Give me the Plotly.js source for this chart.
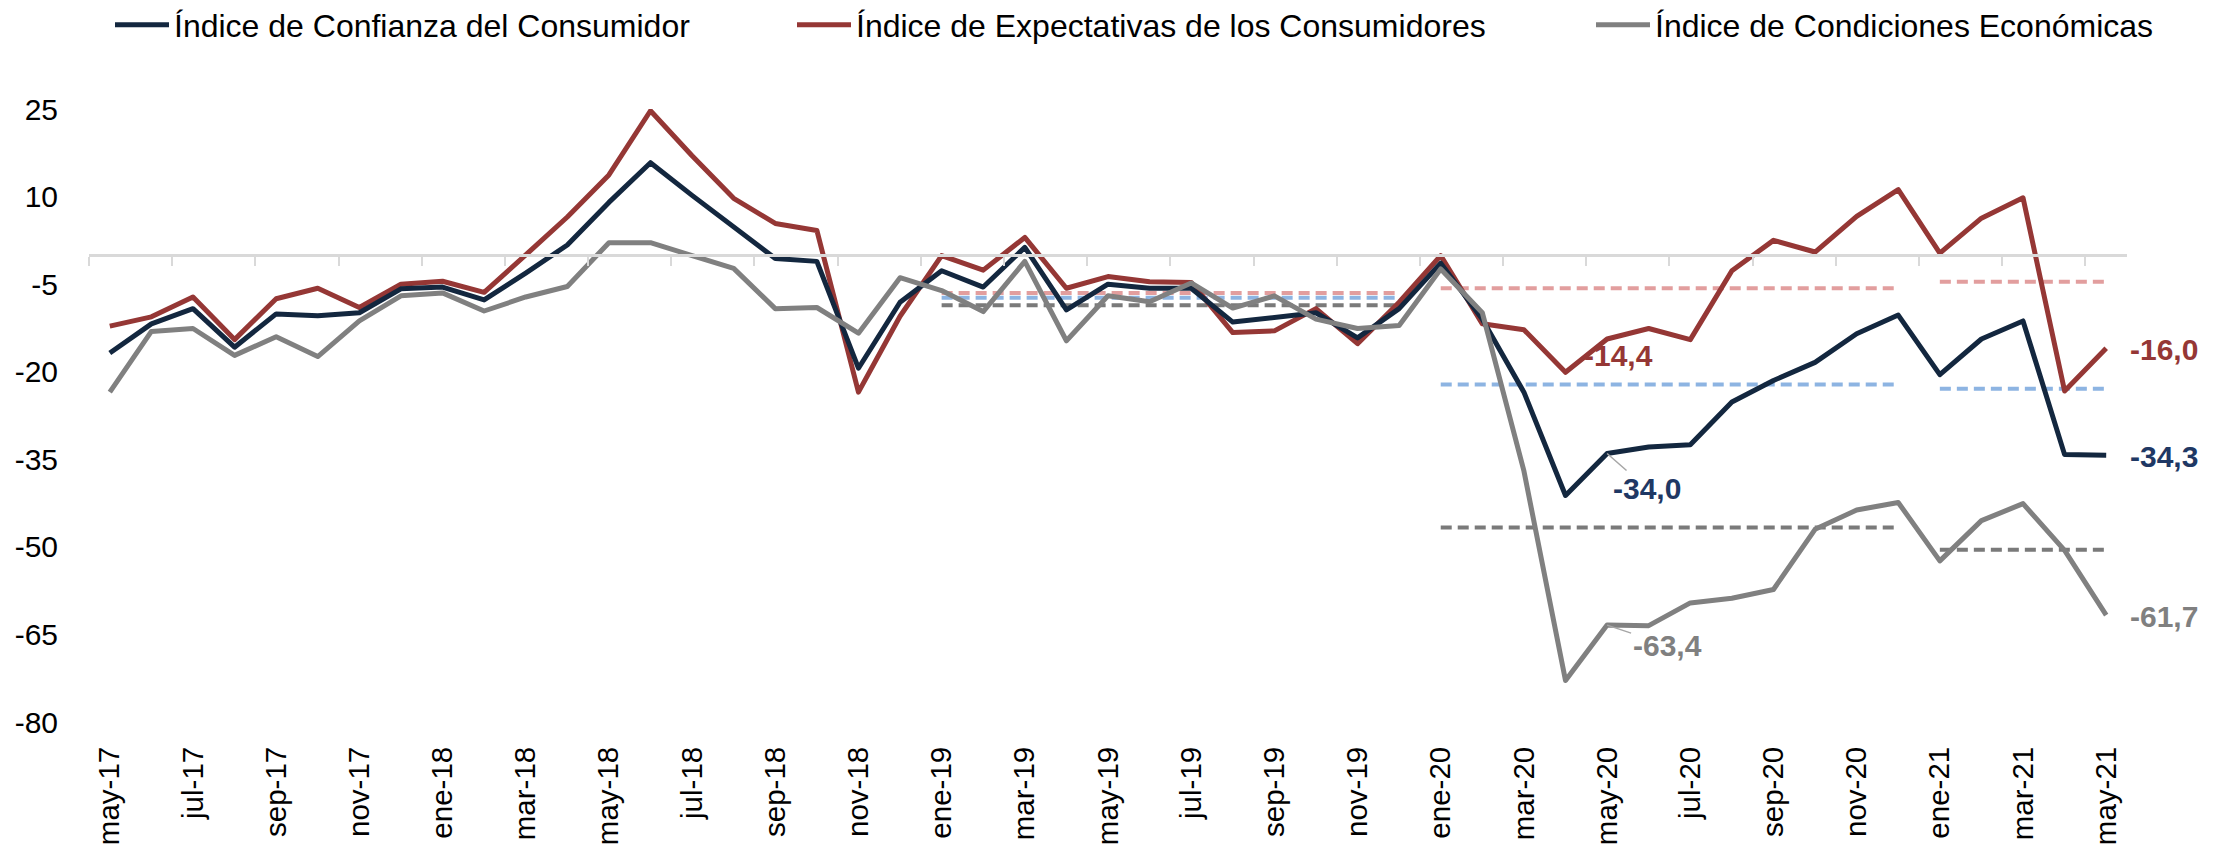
<!DOCTYPE html>
<html>
<head>
<meta charset="utf-8">
<script src="https://cdn.plot.ly/plotly-3.0.1.min.js"></script>
<style>
html, body { margin: 0; padding: 0; background: #ffffff; }
#chart { width: 2229px; height: 849px; }
.scatterlayer path.js-line { stroke-linejoin: round; }
</style>
</head>
<body>
<div id="chart"></div>
<script>
// ---- Data ----
const months = [
  'may-17','jun-17','jul-17','ago-17','sep-17','oct-17','nov-17','dic-17',
  'ene-18','feb-18','mar-18','abr-18','may-18','jun-18','jul-18','ago-18','sep-18','oct-18','nov-18','dic-18',
  'ene-19','feb-19','mar-19','abr-19','may-19','jun-19','jul-19','ago-19','sep-19','oct-19','nov-19','dic-19',
  'ene-20','feb-20','mar-20','abr-20','may-20','jun-20','jul-20','ago-20','sep-20','oct-20','nov-20','dic-20',
  'ene-21','feb-21','mar-21','abr-21','may-21'
];

const tickLabels = [
  'may-17','jul-17','sep-17','nov-17','ene-18','mar-18','may-18','jul-18','sep-18','nov-18',
  'ene-19','mar-19','may-19','jul-19','sep-19','nov-19','ene-20','mar-20','may-20','jul-20',
  'sep-20','nov-20','ene-21','mar-21','may-21'
];

// Índice de Confianza del Consumidor
const icc = [
  -16.8, -11.8, -9.2, -15.8, -10.1, -10.4, -9.9, -5.8,
  -5.5, -7.7, -3.1, 1.7, 9.0, 15.8, 10.2, 4.9, -0.6, -1.1, -19.4, -8.1,
  -2.7, -5.5, 1.3, -9.4, -5.0, -5.7, -5.7, -11.5, -10.7, -9.9, -14.2, -9.2,
  -1.4, -11.0, -23.5, -41.2, -34.0, -32.9, -32.5, -25.2, -21.5, -18.4, -13.5, -10.3,
  -20.5, -14.4, -11.3, -34.2, -34.3
];

// Índice de Expectativas de los Consumidores
const iec = [
  -12.2, -10.6, -7.2, -14.5, -7.5, -5.7, -9.0, -5.0,
  -4.5, -6.4, 0.0, 6.5, 13.7, 24.7, 17.0, 9.7, 5.4, 4.2, -23.5, -10.5,
  -0.1, -2.6, 3.0, -5.7, -3.7, -4.6, -4.7, -13.3, -13.0, -9.2, -15.2, -8.1,
  -0.1, -11.8, -12.8, -20.1, -14.4, -12.6, -14.5, -2.7, 2.5, 0.5, 6.6, 11.2,
  0.3, 6.3, 9.8, -23.3, -16.0
];

// Índice de Condiciones Económicas
const ice = [
  -23.5, -13.1, -12.6, -17.2, -14.0, -17.4, -11.3, -7.0,
  -6.5, -9.6, -7.2, -5.4, 2.1, 2.1, -0.1, -2.3, -9.2, -9.0, -13.4, -3.9,
  -6.1, -9.7, -1.1, -14.7, -7.0, -8.0, -4.8, -9.1, -7.0, -11.0, -12.6, -12.1,
  -2.4, -9.9, -37.0, -72.9, -63.4, -63.5, -59.6, -58.8, -57.3, -47.0, -43.7, -42.4,
  -52.4, -45.5, -42.6, -50.6, -61.7
];

// Period averages (dashed lines)
const avgStart = ['ene-19', 'ene-20', 'ene-21'];
const avgEnd   = ['dic-19', 'dic-20', 'may-21'];
const avgIcc = [-7.35, -22.2, -22.9];
const avgIec = [-6.5, -5.7, -4.6];
const avgIce = [-8.6, -46.7, -50.5];

const yTicks = [-80, -65, -50, -35, -20, -5, 10, 25];

// ---- Styles ----
const FONT = 'Liberation Sans, Arial, Helvetica, sans-serif';
const C_ICC = '#13273f';
const C_IEC = '#953735';
const C_ICE = '#808080';
const C_ICC_AVG = '#8db4e2';
const C_IEC_AVG = '#e29e9e';
const C_ICE_AVG = '#7a7a7a';
const C_ICC_LBL = '#1f3864';

const idx = months.map((m, i) => i);
const pos = m => months.indexOf(m);
const fmt = v => v.toFixed(1).replace('.', ',');

const traces = [];

// dashed averages (under)
function addAvg(vals, color) {
  vals.forEach((v, k) => {
    traces.push({
      x: [pos(avgStart[k]), pos(avgEnd[k])],
      y: [v, v],
      mode: 'lines',
      line: { color: color, width: 4, dash: '11px,6px' },
      showlegend: false,
      hoverinfo: 'skip'
    });
  });
}
addAvg(avgIec, C_IEC_AVG);
addAvg(avgIcc, C_ICC_AVG);
addAvg(avgIce, C_ICE_AVG);

traces.push({
  x: idx, y: iec, mode: 'lines', name: 'Índice de Expectativas de los Consumidores',
  line: { color: C_IEC, width: 5 }, legend: 'legend2'
});
traces.push({
  x: idx, y: icc, mode: 'lines', name: 'Índice de Confianza del Consumidor',
  line: { color: C_ICC, width: 5 }, legend: 'legend'
});
traces.push({
  x: idx, y: ice, mode: 'lines', name: 'Índice de Condiciones Económicas',
  line: { color: C_ICE, width: 5 }, legend: 'legend3'
});
// carrier for the zero-line axis with boundary ticks
traces.push({
  x: idx, y: idx.map(() => null), xaxis: 'x2', yaxis: 'y', mode: 'lines',
  showlegend: false, hoverinfo: 'skip'
});

const last = months.length - 1;
const iMay20 = pos('may-20');

const lblFont = (c) => ({ family: FONT, size: 30, color: c, weight: 700 });

const annotations = [
  { x: iMay20, y: iec[iMay20], text: fmt(iec[iMay20]), showarrow: false,
    xshift: 11, yshift: -16, font: lblFont(C_IEC) },
  { x: iMay20, y: icc[iMay20], text: fmt(icc[iMay20]), showarrow: true,
    arrowhead: 0, arrowwidth: 1.5, arrowcolor: '#a6a6a6', ax: 40, ay: 35,
    font: lblFont(C_ICC_LBL) },
  { x: iMay20, y: ice[iMay20], text: fmt(ice[iMay20]), showarrow: true,
    arrowhead: 0, arrowwidth: 1.5, arrowcolor: '#a6a6a6', ax: 60, ay: 20,
    font: lblFont(C_ICE) },
  { x: last, y: iec[last], text: fmt(iec[last]), showarrow: false,
    xanchor: 'left', xshift: 22, yshift: -1, font: lblFont(C_IEC) },
  { x: last, y: icc[last], text: fmt(icc[last]), showarrow: false,
    xanchor: 'left', xshift: 22, yshift: -1, font: lblFont(C_ICC_LBL) },
  { x: last, y: ice[last], text: fmt(ice[last]), showarrow: false,
    xanchor: 'left', xshift: 22, yshift: -1, font: lblFont(C_ICE) }
];

const legendBase = {
  orientation: 'h', xref: 'container', yref: 'container',
  y: 1 - 25 / 849, yanchor: 'middle', xanchor: 'left',
  font: { family: FONT, size: 32, color: '#000000' },
  bgcolor: 'rgba(0,0,0,0)', borderwidth: 0, itemwidth: 54,
  tracegroupgap: 0
};

const layout = {
  width: 2229, height: 849,
  paper_bgcolor: '#ffffff', plot_bgcolor: '#ffffff',
  margin: { l: 89, r: 102, t: 109, b: 127 },
  showlegend: true,
  legend:  Object.assign({}, legendBase, { x: 110 / 2229 }),
  legend2: Object.assign({}, legendBase, { x: 792 / 2229 }),
  legend3: Object.assign({}, legendBase, { x: 1591 / 2229 }),
  xaxis: {
    range: [-0.5, 48.5],
    tickmode: 'array',
    tickvals: tickLabels.map(pos),
    ticktext: tickLabels,
    tickangle: -90,
    ticks: 'outside', ticklen: 12, tickcolor: 'rgba(0,0,0,0)',
    showline: false, showgrid: false, zeroline: false,
    tickfont: { family: FONT, size: 29.5, color: '#000000' },
    fixedrange: true
  },
  xaxis2: {
    overlaying: 'x', anchor: 'free', position: (0 - (-80)) / (25 - (-80)),
    range: [-0.5, 48.5],
    tickmode: 'array',
    tickvals: tickLabels.map(l => pos(l) - 0.5),
    showticklabels: false,
    ticks: 'outside', ticklen: 9, tickwidth: 2, tickcolor: '#d9d9d9',
    showline: true, linecolor: '#d9d9d9', linewidth: 3,
    showgrid: false, zeroline: false, fixedrange: true
  },
  yaxis: {
    range: [-80, 25],
    tickmode: 'array',
    tickvals: yTicks,
    ticktext: yTicks.map(String),
    ticks: 'outside', ticklen: 24, tickcolor: 'rgba(0,0,0,0)',
    showline: false, showgrid: false, zeroline: false,
    tickfont: { family: FONT, size: 30, color: '#000000' },
    fixedrange: true
  },
  annotations: annotations
};

Plotly.newPlot('chart', traces, layout, { displayModeBar: false, staticPlot: true });
</script>
</body>
</html>
